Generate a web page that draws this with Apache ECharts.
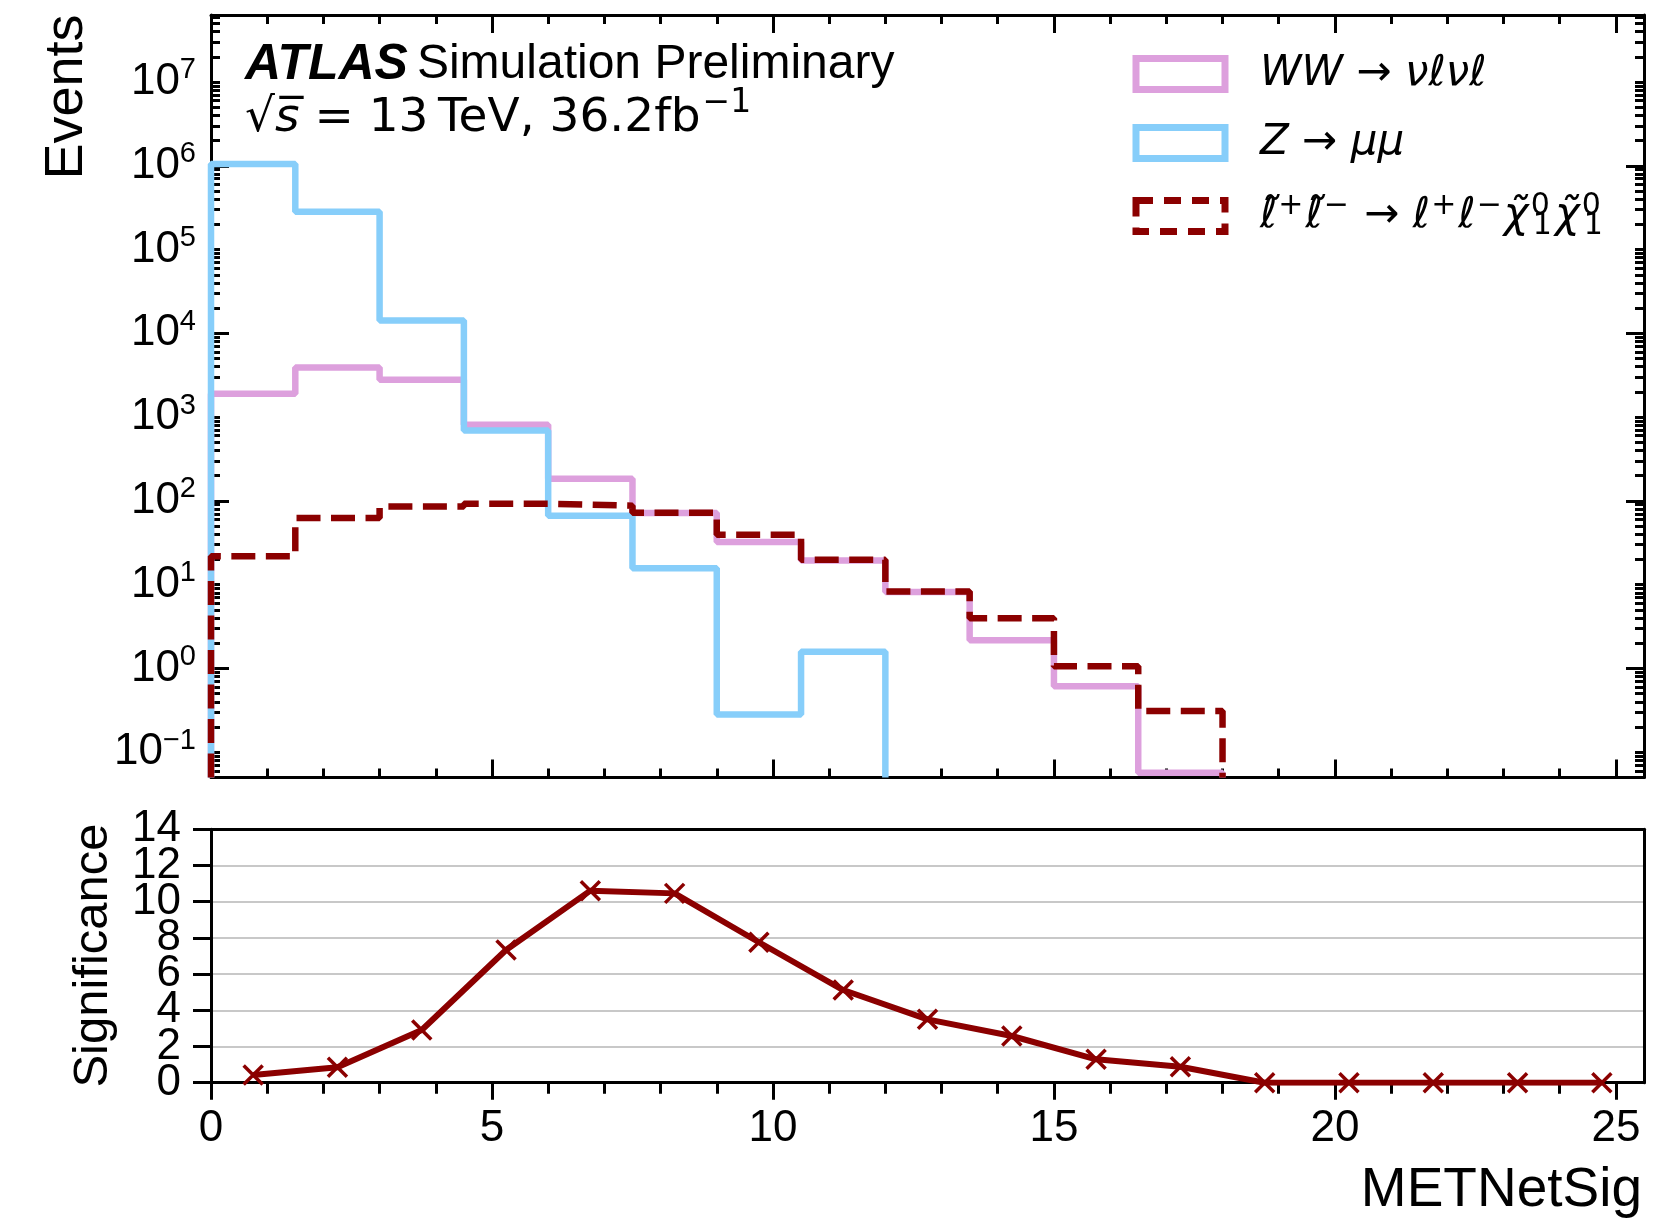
<!DOCTYPE html>
<html>
<head>
<meta charset="utf-8">
<script src="https://cdn.jsdelivr.net/npm/echarts@6/dist/echarts.min.js"></script>
<style>
  html, body { margin: 0; padding: 0; background: #ffffff; }
  #chart { width: 1655px; height: 1221px; }
</style>
</head>
<body>
<div id="chart"></div>
<script>
// ---- data -------------------------------------------------------------
// histogram bin edges in METNetSig
const binEdges = [0, 1.5, 3, 4.5, 6, 7.5, 9, 10.5, 12, 13.5, 15, 16.5, 18];
// expected events per bin
const wwCounts      = [1896, 3900, 2785, 809, 184, 71.8, 32.4, 19.5, 8.2, 2.17, 0.615, 0.057];
const zmmCounts     = [1.05e6, 2.82e5, 1.42e4, 692, 66.6, 15.7, 0.283, 1.58, 0, 0, 0, 0];
const sleptonCounts = [21.8, 62.5, 86, 92.6, 87.7, 72, 39.5, 19.9, 8.3, 3.98, 1.06, 0.31];
// significance per bin (bin centres)
const sigX      = [0.75, 2.25, 3.75, 5.25, 6.75, 8.25, 9.75, 11.25, 12.75, 14.25, 15.75, 17.25, 18.75, 20.25, 21.75, 23.25, 24.75];
const sigValues = [0.43, 0.85, 2.91, 7.33, 10.61, 10.46, 7.76, 5.12, 3.50, 2.58, 1.29, 0.88, 0, 0, 0, 0, 0];
// tick labels
const logLabelValues = [0.1, 1, 10, 100, 1e3, 1e4, 1e5, 1e6, 1e7];
const xLabelValues   = [0, 5, 10, 15, 20, 25];
const sigTickValues  = [0, 2, 4, 6, 8, 10, 12, 14];

// series names
const NAME_WW  = 'WW → νℓνℓ';
const NAME_ZMM = 'Z → μμ';
const NAME_SL  = 'ℓ̃⁺ℓ̃⁻ → ℓ⁺ℓ⁻χ̃⁰₁χ̃⁰₁';

// ---- axis ranges & styling ------------------------------------------------
const X_MAX = 25.5;
const Y_MIN = 0.05, Y_MAX = 6.3e7;
const BLACK = '#000000';
const C_WW = '#DDA0DD', C_ZMM = '#87CEFA', C_SL = '#8B0000';
const FONT = 'Liberation Sans';

const logMajor = [1, 100, 1e4, 1e6];
const logMinor = [];
for (let e = -2; e <= 7; e++) {
  for (let k = 1; k <= 9; k++) {
    const v = k * Math.pow(10, e);
    if (v >= Y_MIN && v <= Y_MAX && logMajor.indexOf(v) < 0) logMinor.push(v);
  }
}
const xMinor = [];
for (let i = 0; i <= 25; i++) if (i % 5 !== 0) xMinor.push(i);

// the significance labels sit close together; they are split over two
// label-only axes so that none of them gets dropped as overlapping
const sigLabelsA = sigTickValues.filter(function (v, i) { return i % 2 === 0; });
const sigLabelsB = sigTickValues.filter(function (v, i) { return i % 2 === 1; });

// outline of a step histogram: rise at the first edge, fall after the last filled bin
function stepOutline(edges, counts, floor) {
  let last = counts.length - 1;
  while (last >= 0 && !(counts[last] > 0)) last--;
  const pts = [[edges[0], floor]];
  for (let i = 0; i <= last; i++) {
    pts.push([edges[i], counts[i]]);
    pts.push([edges[i + 1], counts[i]]);
  }
  pts.push([edges[last + 1], floor]);
  return pts;
}

function supDigits(v) {
  const e = Math.round(Math.log10(v));
  return '{b|10}{s|' + (e < 0 ? '\u2212' + (-e) : e) + '}';
}

const axisLineStyle = { color: BLACK, width: 3 };
const tickLine = { color: BLACK, width: 3 };

function xTicks(grid, pos, values, len, inside, withLine) {
  return {
    gridIndex: grid, type: 'value', min: 0, max: X_MAX, position: pos,
    axisLine: { show: withLine, onZero: false, lineStyle: axisLineStyle },
    axisTick: { show: true, inside: inside, length: len, lineStyle: tickLine, customValues: values },
    axisLabel: { show: false },
    splitLine: { show: false }
  };
}
function logTicks(pos, values, len, withLine) {
  return {
    gridIndex: 0, type: 'log', logBase: 10, min: Y_MIN, max: Y_MAX, position: pos,
    axisLine: { show: withLine, onZero: false, lineStyle: axisLineStyle },
    axisTick: { show: true, inside: true, length: len, lineStyle: tickLine, customValues: values },
    axisLabel: { show: false },
    splitLine: { show: false }
  };
}
function sigLabelAxis(values) {
  return {
    gridIndex: 1, type: 'value', min: 0, max: 14, interval: 2, position: 'left',
    axisLine: { show: false, onZero: false }, axisTick: { show: false }, splitLine: { show: false },
    axisLabel: {
      show: true, customValues: values, showMinLabel: true, showMaxLabel: true, hideOverlap: false,
      fontFamily: FONT, fontSize: 44, color: BLACK, margin: 30
    }
  };
}

// ---- legend text ------------------------------------------------------------
const legendText = {};
legendText[NAME_WW]  = '{i|WW}{r| → }{i|νℓνℓ}';
legendText[NAME_ZMM] = '{i|Z}{r| → }{i|μμ}';
legendText[NAME_SL]  = '{c|ℓ̃}{u|+}{c|ℓ̃}{u|\u2212}{q| → }{c|ℓ}{u|+}{c|ℓ}{u|\u2212}{c|χ̃}{z|0}{d|1}{c|χ̃}{z|0}{d|1}';

const LEG_FS = 42, SUP_FS = 30;
const legendRich = {
  i: { fontFamily: 'DejaVu Sans', fontStyle: 'italic', fontSize: LEG_FS, lineHeight: 40, color: BLACK },
  r: { fontFamily: 'DejaVu Sans', fontSize: LEG_FS, lineHeight: 40, color: BLACK },
  c: { fontFamily: 'DejaVu Sans', fontStyle: 'italic', fontSize: LEG_FS, lineHeight: 68, color: BLACK },
  q: { fontFamily: 'DejaVu Sans', fontSize: LEG_FS, lineHeight: 68, color: BLACK },
  u: { fontFamily: 'DejaVu Sans', fontSize: SUP_FS, lineHeight: 28, padding: [0, 2, 20, 1], color: BLACK },
  z: { fontFamily: 'DejaVu Sans', fontSize: SUP_FS, lineHeight: 28, padding: [0, 0, 20, 2], width: 0.1, color: BLACK },
  d: { fontFamily: 'DejaVu Sans', fontSize: SUP_FS, lineHeight: 28, padding: [20, 3, 0, 2], color: BLACK }
};

// ---- chart ------------------------------------------------------------------
const chart = echarts.init(document.getElementById('chart'), null, { renderer: 'canvas' });

const option = {
  backgroundColor: '#ffffff',
  animation: false,
  textStyle: { fontFamily: FONT },
  grid: [
    { left: 211, top: 15, width: 1433, height: 762.5, containLabel: false },
    { left: 211, top: 829.3, width: 1433, height: 253.4, containLabel: false }
  ],
  title: [
    {
      text: '{a|ATLAS}{b|Simulation Preliminary}',
      left: 245, top: 40, padding: 0,
      textStyle: {
        fontWeight: 'normal',
        rich: {
          a: { fontFamily: FONT, fontWeight: 'bold', fontStyle: 'italic', fontSize: 50, lineHeight: 50, color: BLACK },
          b: { fontFamily: FONT, fontWeight: 'normal', fontSize: 48, lineHeight: 50, padding: [0, 0, 0, 9], color: BLACK }
        }
      }
    },
    {
      text: '{m|√}{v|s\u0305}{t| = 13\u2009TeV, 36.2fb}{e|\u22121}',
      left: 245, top: 87, padding: 0,
      textStyle: {
        fontWeight: 'normal',
        rich: {
          m: { fontFamily: 'DejaVu Sans', fontWeight: 'normal', fontSize: 47, lineHeight: 63, color: BLACK },
          v: { fontFamily: 'DejaVu Sans', fontWeight: 'normal', fontStyle: 'italic', fontSize: 47, lineHeight: 63, color: BLACK },
          t: { fontFamily: 'DejaVu Sans', fontWeight: 'normal', fontSize: 47, lineHeight: 63, color: BLACK },
          e: { fontFamily: 'DejaVu Sans', fontWeight: 'normal', fontSize: 33, lineHeight: 33, padding: [0, 0, 30, 2], color: BLACK }
        }
      }
    }
  ],
  legend: {
    orient: 'vertical', left: 1132.5, top: 53, padding: 0,
    itemWidth: 89, itemHeight: 31, itemGap: 27, align: 'left',
    selectedMode: false,
    data: [
      { name: NAME_WW,  icon: 'rect', itemStyle: { color: 'transparent', borderColor: C_WW,  borderWidth: 7 } },
      { name: NAME_ZMM, icon: 'rect', itemStyle: { color: 'transparent', borderColor: C_ZMM, borderWidth: 7 } },
      { name: NAME_SL,  icon: 'rect', itemStyle: { color: 'transparent', borderColor: C_SL,  borderWidth: 7, borderType: [17, 11] } }
    ],
    formatter: function (name) { return legendText[name]; },
    textStyle: { padding: [0, 0, 0, 30], rich: legendRich }
  },
  xAxis: [
    xTicks(0, 'bottom', xLabelValues, 18, true, true),
    xTicks(0, 'bottom', xMinor, 9, true, false),
    xTicks(0, 'top', xLabelValues, 18, true, true),
    xTicks(0, 'top', xMinor, 9, true, false),
    {
      gridIndex: 1, type: 'value', min: 0, max: X_MAX, position: 'bottom',
      axisLine: { show: true, onZero: false, lineStyle: axisLineStyle },
      axisTick: { show: true, inside: false, length: 17, lineStyle: tickLine, customValues: xLabelValues },
      axisLabel: { show: true, customValues: xLabelValues, fontFamily: FONT, fontSize: 44, color: BLACK, margin: 24 },
      splitLine: { show: false }
    },
    xTicks(1, 'bottom', xMinor, 11, false, false),
    {
      gridIndex: 1, type: 'value', min: 0, max: X_MAX, position: 'top',
      axisLine: { show: true, onZero: false, lineStyle: axisLineStyle },
      axisTick: { show: false }, axisLabel: { show: false }, splitLine: { show: false }
    }
  ],
  yAxis: [
    {
      gridIndex: 0, type: 'log', logBase: 10, min: Y_MIN, max: Y_MAX, position: 'left',
      axisLine: { show: true, onZero: false, lineStyle: axisLineStyle },
      axisTick: { show: true, inside: true, length: 18, lineStyle: tickLine, customValues: logMajor },
      axisLabel: {
        show: true, customValues: logLabelValues, margin: 15, color: BLACK,
        formatter: supDigits,
        rich: {
          b: { fontFamily: FONT, fontSize: 44, lineHeight: 52, color: BLACK },
          s: { fontFamily: FONT, fontSize: 29, lineHeight: 29, verticalAlign: 'top', color: BLACK }
        }
      },
      splitLine: { show: false }
    },
    logTicks('left', logMinor, 9, false),
    logTicks('right', logMajor, 18, true),
    logTicks('right', logMinor, 9, false),
    {
      gridIndex: 1, type: 'value', min: 0, max: 14, interval: 2, position: 'left',
      axisLine: { show: true, onZero: false, lineStyle: axisLineStyle },
      axisTick: { show: true, inside: false, length: 18, lineStyle: tickLine, customValues: sigTickValues },
      axisLabel: { show: false },
      splitLine: { show: true, lineStyle: { color: '#c8c8c8', width: 2 } }
    },
    {
      gridIndex: 1, type: 'value', min: 0, max: 14, interval: 2, position: 'right',
      axisLine: { show: true, onZero: false, lineStyle: axisLineStyle },
      axisTick: { show: false }, axisLabel: { show: false }, splitLine: { show: false }
    },
    sigLabelAxis(sigLabelsA),
    sigLabelAxis(sigLabelsB)
  ],
  series: [
    {
      name: NAME_WW, type: 'line', xAxisIndex: 0, yAxisIndex: 0,
      data: stepOutline(binEdges, wwCounts, Y_MIN),
      symbol: 'none', clip: true, color: C_WW,
      lineStyle: { color: C_WW, width: 6.5 }, z: 3
    },
    {
      name: NAME_ZMM, type: 'line', xAxisIndex: 0, yAxisIndex: 0,
      data: stepOutline(binEdges, zmmCounts, Y_MIN),
      symbol: 'none', clip: true, color: C_ZMM,
      lineStyle: { color: C_ZMM, width: 6.5 }, z: 4
    },
    {
      name: NAME_SL, type: 'line', xAxisIndex: 0, yAxisIndex: 0,
      data: stepOutline(binEdges, sleptonCounts, Y_MIN),
      symbol: 'none', clip: true, color: C_SL,
      lineStyle: { color: C_SL, width: 6.5, type: [24, 10.5] }, z: 5
    },
    {
      name: 'Significance', type: 'line', xAxisIndex: 4, yAxisIndex: 4,
      data: sigX.map(function (x, i) { return [x, sigValues[i]]; }),
      symbol: 'path://M0,0L10,10M10,0L0,10', symbolSize: 19, showAllSymbol: true,
      itemStyle: { color: 'transparent', borderColor: C_SL, borderWidth: 3.5 },
      lineStyle: { color: C_SL, width: 6 }, clip: true, z: 5
    }
  ],
  graphic: [
    {
      type: 'text', x: 67, y: 97, rotation: Math.PI / 2,
      style: { text: 'Events', fontFamily: FONT, fontSize: 54, fill: BLACK, align: 'center', verticalAlign: 'middle' }
    },
    {
      type: 'text', x: 93, y: 955.5, rotation: Math.PI / 2,
      style: { text: 'Significance', fontFamily: FONT, fontSize: 49, fill: BLACK, align: 'center', verticalAlign: 'middle' }
    },
    {
      type: 'text', x: 1642, y: 1191,
      style: { text: 'METNetSig', fontFamily: FONT, fontSize: 55, fill: BLACK, align: 'right', verticalAlign: 'middle' }
    }
  ]
};

chart.setOption(option);
</script>
</body>
</html>
